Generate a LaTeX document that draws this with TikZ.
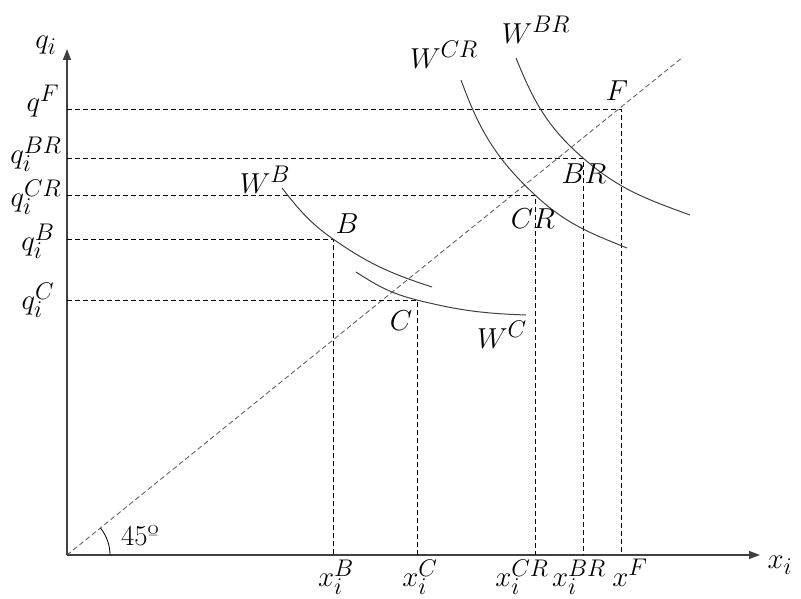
\documentclass[tikz,border=0pt]{standalone}
\usetikzlibrary{arrows.meta}
\begin{document}
\begin{tikzpicture}[
        x=1pt, y=1pt,
        font=\fontsize{24.88}{30}\selectfont,
        axis/.style={draw=black!75, line width=1.2pt,
                     -{Triangle[length=11pt,width=8pt]}},
        guide/.style={draw=black, line width=0.7pt, dash pattern=on 5pt off 3pt},
        diag/.style={draw=black!60, line width=0.9pt, dash pattern=on 5pt off 3pt},
        wcurve/.style={draw=black!75, line width=1pt},
        lbl/.style={inner sep=0pt, scale=1.16},
    ]
    \useasboundingbox (-67,-43) rectangle (734,555);

    % axes and the 45 degree line
    \coordinate (O) at (0,0);
    \coordinate (ytip) at (0,506);
    \coordinate (xtip) at (693,0);
    \coordinate (dtip) at (616,498);

    \draw[diag] (O) -- (dtip);
    \draw[axis] (O) -- (ytip);
    \draw[axis] (O) -- (xtip);
    \draw[line width=0.8pt] (43,0) arc[start angle=0, end angle=39, radius=43];
    \node[lbl] (ang) at (73,19) {45º};

    \node[lbl] (qi) at (-21,510) {$q_i$};
    \node[lbl] (xi) at (713,-10) {$x_i$};

    % equilibrium points
    \coordinate (F)  at (554,446);
    \coordinate (BR) at (516,397);
    \coordinate (CR) at (468,360);
    \coordinate (B)  at (266,316);
    \coordinate (C)  at (350,255);

    \draw[guide] (F -| O)  -- (F)  -- (F |- O);
    \draw[guide] (BR -| O) -- (BR) -- (BR |- O);
    \draw[guide] (CR -| O) -- (CR) -- (CR |- O);
    \draw[guide] (B -| O)  -- (B)  -- (B |- O);
    \draw[guide] (C -| O)  -- (C)  -- (C |- O);

    % indifference curves
    \draw[wcurve] (215,367) to[out=-52,in=145] (B) to[out=-35,in=162] (365,268);
    \draw[wcurve] (289,283) to[out=-33,in=166] (C) to[out=-14,in=178] (459,240);
    \draw[wcurve] (394,475) to[out=-70,in=137] (CR) to[out=-43,in=158] (560,307);
    \draw[wcurve] (449,497) to[out=-68,in=139] (BR) to[out=-41,in=160] (623,340);

    \node[lbl] (wB)  at (198,375) {$W^B$};
    \node[lbl] (wC)  at (435,220) {$W^C$};
    \node[lbl] (wCR) at (377,500) {$W^{CR}$};
    \node[lbl] (wBR) at (469,525) {$W^{BR}$};

    \node[lbl] (lB)  at (280,331) {$B$};
    \node[lbl] (lC)  at (334,234) {$C$};
    \node[lbl] (lCR) at (466,336) {$CR$};
    \node[lbl] (lBR) at (517,381) {$BR$};
    \node[lbl] (lF)  at (550,464) {$F$};

    % tick labels
    \node[lbl] (qF)  at (-24,454) {$q^F$};
    \node[lbl] (qBR) at (-31,401) {$q_i^{BR}$};
    \node[lbl] (qCR) at (-31,358) {$q_i^{CR}$};
    \node[lbl] (qB)  at (-29,314) {$q_i^B$};
    \node[lbl] (qC)  at (-29,255) {$q_i^C$};

    \node[lbl] (xB)  at (269,-22) {$x_i^B$};
    \node[lbl] (xC)  at (353,-22) {$x_i^C$};
    \node[lbl] (xCR) at (455,-22) {$x_i^{CR}$};
    \node[lbl] (xBR) at (512,-22) {$x_i^{BR}$};
    \node[lbl] (xF)  at (563,-18) {$x^F$};
\end{tikzpicture}
\end{document}
